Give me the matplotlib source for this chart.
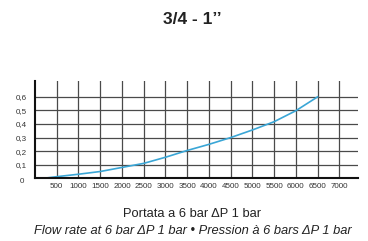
import matplotlib
matplotlib.use("Agg")
import matplotlib.pyplot as plt

plt.rcParams['font.family'] = ['Liberation Sans', 'DejaVu Sans']

flow = [200, 500, 1000, 1500, 2000, 2500, 3000, 3500, 4000, 4500, 5000, 5500, 6000, 6500]
dp = [0.0, 0.012, 0.03, 0.05, 0.08, 0.11, 0.155, 0.205, 0.25, 0.3, 0.356, 0.417, 0.498, 0.6]

x_ticks = [500, 1000, 1500, 2000, 2500, 3000, 3500, 4000, 4500, 5000, 5500, 6000, 6500, 7000]
y_ticks = [0.1, 0.2, 0.3, 0.4, 0.5, 0.6]
y_labels = ["0,1", "0,2", "0,3", "0,4", "0,5", "0,6"]

title = "3/4 - 1\u2019\u2019"
line1 = "Portata a 6 bar \u0394P 1 bar"
line2 = "Flow rate at 6 bar \u0394P 1 bar \u2022 Pression \u00e0 6 bars \u0394P 1 bar"

fig = plt.figure(figsize=(3.68, 2.41), dpi=100)
ax = fig.add_axes([35/368, 1-178.3/241, (358-35)/368, (178.3-81)/241])
ax.set_xlim(0, 7430)
ax.set_ylim(0, 0.717)

grid_col = "#4a4a4a"
for xv in x_ticks:
    ax.axvline(xv, color=grid_col, lw=0.9, zorder=1)
for yv in y_ticks:
    ax.axhline(yv, color=grid_col, lw=0.9, zorder=1)

ax.plot(flow, dp, color="#3aa6d6", lw=1.2, zorder=3)

for s in ["top", "right"]:
    ax.spines[s].set_visible(False)
for s in ["left", "bottom"]:
    ax.spines[s].set_linewidth(1.5)
    ax.spines[s].set_color("#111111")
    ax.spines[s].set_zorder(4)

ax.set_xticks(x_ticks)
ax.set_xticklabels([str(v) for v in x_ticks], fontsize=5.8, color="#333333")
ax.set_yticks(y_ticks)
ax.set_yticklabels(y_labels, fontsize=5.8, color="#333333")
ax.tick_params(length=0, pad=3.5)
ax.tick_params(axis='y', pad=5.5)
ax.text(-250, 0, "0", fontsize=5.8, color="#333333", ha="right", va="top")

fig.text(192/368, 1-20/241, title, ha="center", va="center", fontsize=12.5, fontweight="bold", color="#222222")
fig.text(192/368, 1-214/241, line1, ha="center", va="center", fontsize=9.3, color="#222222")
fig.text(193/368, 1-231/241, line2, ha="center", va="center", fontsize=9.3, style="italic", color="#222222")

fig.savefig("out.png", dpi=100, facecolor="white")
